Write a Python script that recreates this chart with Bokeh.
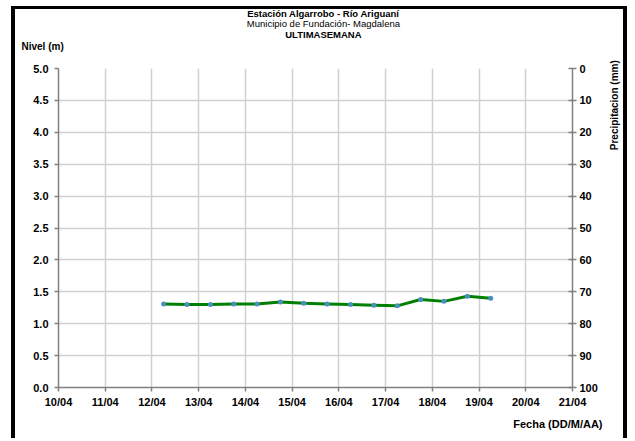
import math
from bokeh.plotting import figure
from bokeh.models import (Range1d, LinearAxis, FixedTicker, Title, Grid)
from bokeh.embed import file_html
from bokeh.resources import INLINE

# ---- data ----
dias = [12.25, 12.75, 13.25, 13.75, 14.25, 14.75, 15.25, 15.75,
        16.25, 16.75, 17.25, 17.75, 18.25, 18.75, 19.25]
nivel = [1.31, 1.30, 1.30, 1.31, 1.31, 1.34, 1.32, 1.31,
         1.30, 1.29, 1.28, 1.38, 1.35, 1.43, 1.40]
x_ticks = [10, 11, 12, 13, 14, 15, 16, 17, 18, 19, 20, 21]
x_labels = ["10/04", "11/04", "12/04", "13/04", "14/04", "15/04",
            "16/04", "17/04", "18/04", "19/04", "20/04", "21/04"]
y_ticks = [0.0, 0.5, 1.0, 1.5, 2.0, 2.5, 3.0, 3.5, 4.0, 4.5, 5.0]
p_ticks = [0, 10, 20, 30, 40, 50, 60, 70, 80, 90, 100]

FONT = "Liberation Sans"
AX = "#808080"
GRID = "#D0D0D0"

p = figure(width=616, height=432, output_backend="svg", toolbar_location=None,
           x_range=Range1d(10, 21), y_range=Range1d(0, 5),
           min_border_left=43, min_border_right=59,
           min_border_top=59, min_border_bottom=54,
           x_axis_type=None, y_axis_type=None)
p.styles = {"border-left": "4px solid black", "border-right": "4px solid black",
            "border-top": "3px solid black", "margin-left": "11px", "margin-top": "6px"}
p.outline_line_color = None
p.background_fill_color = "white"
p.border_fill_color = "white"
p.extra_y_ranges = {"precip": Range1d(100, 0)}

def style_axis(ax):
    ax.axis_line_color = AX
    ax.axis_line_width = 1.5
    ax.major_tick_line_color = AX
    ax.major_tick_line_width = 1.5
    ax.minor_tick_line_color = None
    ax.major_label_text_font = FONT
    ax.major_label_text_font_style = "bold"
    ax.major_label_text_font_size = "11px"
    ax.major_label_text_color = "black"

p.add_layout(Grid(dimension=0, ticker=FixedTicker(ticks=x_ticks),
                  grid_line_color=GRID, grid_line_width=1.5))
p.add_layout(Grid(dimension=1, ticker=FixedTicker(ticks=y_ticks),
                  grid_line_color=GRID, grid_line_width=1.5))

xa = LinearAxis(ticker=FixedTicker(ticks=x_ticks))
xa.major_label_overrides = {t: l for t, l in zip(x_ticks, x_labels)}
style_axis(xa)
xa.major_tick_in = 0
xa.major_tick_out = 4
xa.major_label_standoff = 4
p.add_layout(xa, "below")

ya = LinearAxis(ticker=FixedTicker(ticks=y_ticks))
ya.major_label_overrides = {t: f"{t:.1f}" for t in y_ticks}
style_axis(ya)
ya.major_tick_in = 0
ya.major_tick_out = 4
ya.major_label_standoff = 6
p.add_layout(ya, "left")

ra = LinearAxis(y_range_name="precip", ticker=FixedTicker(ticks=p_ticks))
style_axis(ra)
ra.major_tick_in = 4
ra.major_tick_out = 4
ra.major_label_standoff = 3
# leading no-break spaces push the label towards the top end of the axis
ra.axis_label = "\u00a0" * 28 + "Precipitacion (mm)"
ra.axis_label_text_font = FONT
ra.axis_label_text_font_style = "bold"
ra.axis_label_text_font_size = "10px"
ra.axis_label_text_color = "black"
ra.axis_label_standoff = 14
try:
    ra.axis_label_orientation = math.pi / 2
except Exception:
    pass
p.add_layout(ra, "right")

p.line(dias, nivel, line_color="#008000", line_width=3)
p.scatter(dias, nivel, size=5, fill_color="#4A8FC0", line_color=None)

def title(text, bold=True, align="center", offset=0, standoff=0, where="above", size="9.5px"):
    p.add_layout(Title(text=text, text_font=FONT,
                       text_font_style="bold" if bold else "normal",
                       text_font_size=size, align=align, offset=offset,
                       standoff=standoff, text_color="black"), where)

PAD = "\u00a0" * 6  # shifts centred titles slightly right, as in the reference
title(" ", standoff=2)
title("Nivel (m)", align="left", offset=-37, standoff=4, size="10px")
title(PAD + "ULTIMASEMANA", standoff=-6)
title(PAD + "Municipio de Fundación- Magdalena", bold=False, standoff=2)
title(PAD + "Estación Algarrobo - Río Ariguaní", standoff=-9)
title("Fecha (DD/M/AA)", align="right", offset=-30, standoff=10, where="below", size="11px")

open("out.html", "w").write(file_html(p, INLINE))
